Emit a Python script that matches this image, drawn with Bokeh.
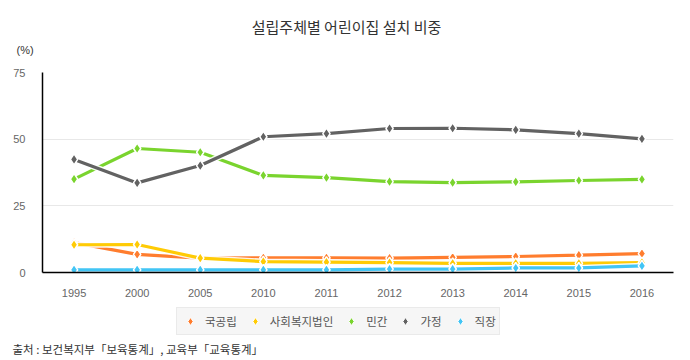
import numpy as np
from bokeh.plotting import figure
from bokeh.models import Legend, LegendItem, FixedTicker, Label, Range1d
from bokeh.layouts import column
from bokeh.embed import file_html
from bokeh.resources import INLINE

years = ["1995", "2000", "2005", "2010", "2011", "2012", "2013", "2014", "2015", "2016"]
series_names = ["국공립", "사회복지법인", "민간", "가정", "직장"]
national = [11.2, 6.8, 5.4, 5.5, 5.5, 5.4, 5.7, 6.0, 6.5, 7.1]
welfare = [10.4, 10.5, 5.4, 4.1, 3.9, 3.7, 3.4, 3.4, 3.4, 3.7]
private = [35.0, 46.5, 45.1, 36.4, 35.6, 34.1, 33.7, 34.0, 34.5, 34.9]
home = [42.4, 33.6, 40.1, 50.9, 52.1, 54.0, 54.1, 53.5, 52.1, 50.1]
workplace = [1.0, 1.0, 1.0, 1.0, 1.0, 1.3, 1.3, 1.7, 1.7, 2.5]
colors = ["#ff7d2e", "#ffcb05", "#7ad42e", "#626262", "#42c5f5"]
y_ticks = [0, 25, 50, 75]
title_text = "설립주체별 어린이집 설치 비중"
unit_text = "(%)"
source_text = "출처 : 보건복지부「보육통계」, 교육부「교육통계」"

KR = "Noto Sans CJK KR"


def strip(h):
    f = figure(width=690, height=h, x_range=Range1d(0, 690), y_range=Range1d(h, 0),
               x_axis_type=None, y_axis_type=None, output_backend="svg",
               toolbar_location=None, min_border=0, title=None)
    f.min_border_left = 0
    f.min_border_right = 0
    f.min_border_top = 0
    f.min_border_bottom = 0
    f.frame_align = False
    f.outline_line_color = None
    return f


# ---------------- title strip ----------------
t = strip(62)
t.add_layout(Label(x=346, y=26, text=title_text, text_font=KR,
                   text_font_size="15px", text_color="#333333",
                   text_align="center", text_baseline="middle"))
t.add_layout(Label(x=16, y=49, text=unit_text, text_font="Liberation Sans",
                   text_font_size="11px", text_color="#333333",
                   text_align="left", text_baseline="middle"))

# ---------------- main chart ----------------
p = figure(width=690, height=243, x_range=years, y_range=(0, 75), title=None,
           output_backend="svg", toolbar_location=None,
           min_border_left=42, min_border_right=17, min_border_top=10, min_border_bottom=33)
p.outline_line_color = None
p.background_fill_color = "white"

p.xgrid.grid_line_color = None
p.ygrid.grid_line_color = "#e8e8e8"
p.ygrid.grid_line_width = 1

p.xaxis.axis_line_color = "black"
p.xaxis.axis_line_width = 1.5
p.xaxis.major_tick_line_color = None
p.xaxis.minor_tick_line_color = None
p.xaxis.major_label_text_font = "Liberation Sans"
p.xaxis.major_label_text_font_size = "11px"
p.xaxis.major_label_text_color = "#666666"
p.xaxis.major_label_standoff = 10

p.yaxis.ticker = FixedTicker(ticks=y_ticks)
p.yaxis.axis_line_color = "black"
p.yaxis.axis_line_width = 1.5
p.yaxis.major_tick_line_color = None
p.yaxis.minor_tick_line_color = None
p.yaxis.major_label_text_font = "Liberation Sans"
p.yaxis.major_label_text_font_size = "11px"
p.yaxis.major_label_text_color = "#666666"
p.yaxis.major_label_standoff = 11

all_series = [national, welfare, private, home, workplace]
for name, vals, c in zip(series_names, all_series, colors):
    p.line(years, vals, line_color="white", line_width=6, line_alpha=0.9)
    p.line(years, vals, line_color=c, line_width=3.2)
    p.scatter(years, vals, marker="diamond", size=11, fill_color=c,
              line_color="white", line_width=1.5)

# ---------------- legend + source strip ----------------
q = strip(55)
items = []
for name, c in zip(series_names, colors):
    r = q.scatter(x=[np.nan], y=[np.nan], marker="diamond", size=9, fill_color=c,
                  line_color="white", line_width=1)
    items.append(LegendItem(label=name, renderers=[r]))

legend = Legend(items=items, orientation="horizontal", location=(176, 25),
                border_line_color="#dddddd", border_line_width=1,
                background_fill_color="#f6f6f6", background_fill_alpha=1,
                label_text_font=KR, label_text_font_size="11.5px",
                label_text_color="#555555", glyph_width=20, glyph_height=20,
                label_standoff=5, spacing=8, padding=3, margin=0)
q.add_layout(legend, "center")

q.add_layout(Label(x=12, y=43, text=source_text, text_font=KR,
                   text_font_size="11.5px", text_color="#333333",
                   text_align="left", text_baseline="middle"))

layout = column(t, p, q, spacing=0)
open("out.html", "w").write(file_html(layout, INLINE))
